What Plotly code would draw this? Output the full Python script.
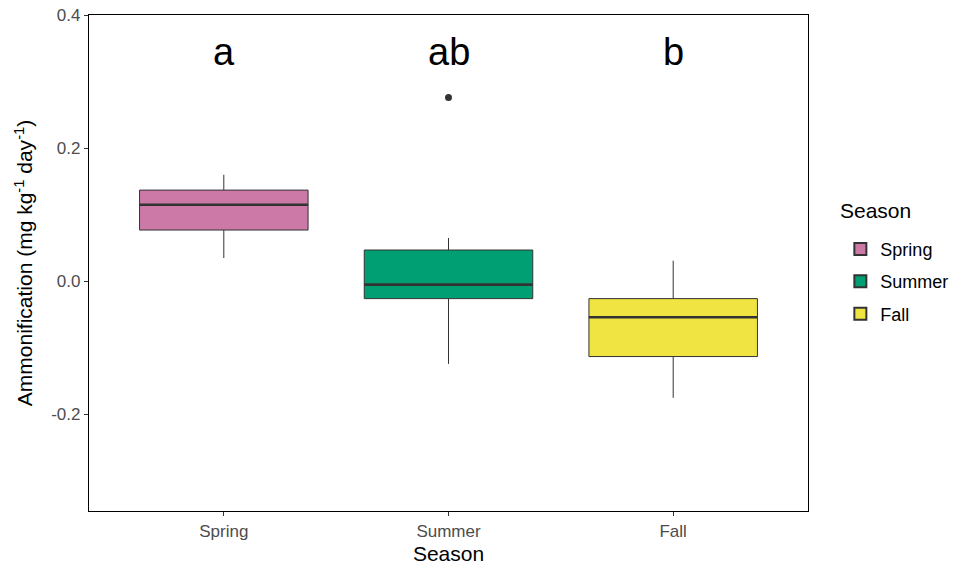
import plotly.graph_objects as go

seasons = ["Spring", "Summer", "Fall"]
positions = [1, 2, 3]
lower_whisker = [0.035, -0.124, -0.175]
q1_vals = [0.077, -0.026, -0.113]
median_vals = [0.115, -0.005, -0.054]
q3_vals = [0.137, 0.047, -0.026]
upper_whisker = [0.160, 0.065, 0.031]
outlier_season = [2]
outlier_vals = [0.276]
letters = ["a", "ab", "b"]
letter_y = 0.345
fill_colors = ["#CC79A7", "#009E73", "#F0E442"]
box_width = 0.75

font_family = "Liberation Sans, Arial, sans-serif"
fig = go.Figure()

for i, s in enumerate(seasons):
    fig.add_trace(go.Box(
        x=[positions[i]], q1=[q1_vals[i]], median=[median_vals[i]], q3=[q3_vals[i]],
        lowerfence=[lower_whisker[i]], upperfence=[upper_whisker[i]],
        name=s, fillcolor=fill_colors[i], line=dict(color="#333333", width=1),
        width=box_width, whiskerwidth=0, boxpoints=False, legendgroup=s,
        hoverinfo="skip",
    ))
    # thicker median line (ggplot style)
    fig.add_trace(go.Scatter(
        x=[positions[i] - box_width / 2, positions[i] + box_width / 2],
        y=[median_vals[i], median_vals[i]], mode="lines",
        line=dict(color="#333333", width=2.6), showlegend=False, hoverinfo="skip",
    ))

fig.add_trace(go.Scatter(
    x=outlier_season, y=outlier_vals, mode="markers",
    marker=dict(color="#333333", size=7), showlegend=False, hoverinfo="skip",
))

for i, s in enumerate(seasons):
    fig.add_annotation(x=positions[i], y=letter_y, text=letters[i], showarrow=False,
                       font=dict(size=38, color="black", family=font_family))

# legend title as separate text (for ggplot-like spacing)
fig.add_annotation(xref="paper", yref="paper", x=1.042, y=0.605, xanchor="left",
                   yanchor="middle", text="Season", showarrow=False,
                   font=dict(size=21, color="black", family=font_family))

fig.update_layout(
    width=953, height=565,
    margin=dict(l=89, r=145, t=15, b=54, autoexpand=False),
    paper_bgcolor="white", plot_bgcolor="white",
    font=dict(family=font_family),
    boxmode="overlay",
    showlegend=True,
    legend=dict(
        x=1.045, xanchor="left", y=0.565, yanchor="top",
        font=dict(size=18, color="black"), tracegroupgap=6,
        itemsizing="constant",
    ),
    xaxis=dict(
        range=[0.4, 3.6], tickmode="array", tickvals=positions, ticktext=seasons,
        showline=True, mirror=True, linecolor="black", linewidth=1.2,
        ticks="outside", ticklen=4, tickcolor="#333333",
        tickfont=dict(size=17, color="#4d4d4d"), automargin=False,
        showgrid=False, zeroline=False,
        title=dict(text="Season", font=dict(size=21, color="black"), standoff=6),
    ),
    yaxis=dict(
        range=[-0.345, 0.4], tickmode="array", tickvals=[-0.2, 0.0, 0.2, 0.4],
        ticktext=["-0.2", "0.0", "0.2", "0.4"],
        showline=True, mirror=True, linecolor="black", linewidth=1.2,
        ticks="outside", ticklen=4, tickcolor="#333333",
        tickfont=dict(size=17, color="#4d4d4d"), automargin=False,
        showgrid=False, zeroline=False,
        title=dict(text="Ammonification (mg kg<sup>-1</sup> day<sup>-1</sup>)",
                   font=dict(size=21, color="black"), standoff=12),
    ),
)

fig.write_html("out.html")
